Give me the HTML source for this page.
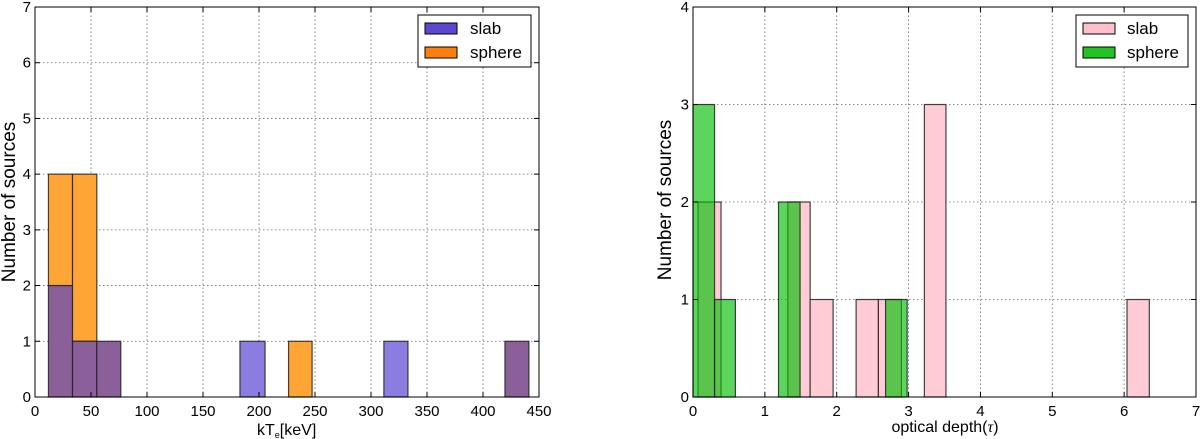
<!DOCTYPE html>
<html><head><meta charset="utf-8"><style>
html,body{margin:0;padding:0;background:#fff;width:1200px;height:439px;overflow:hidden}
svg{font-family:"Liberation Sans",sans-serif}
</style></head><body>
<svg id="s" width="1200" height="439" viewBox="0 0 1200 439"></svg>
<script>
// Left chart data
const leftEdgesL = [12, 33.5, 55.2, 183, 311.5, 419.6];
const leftEdgesR = [33.5, 55.2, 76.6, 205.4, 333, 441];
const leftSlab   = [2, 1, 1, 1, 1, 1];
const leftSphereL = [12, 33.5, 55.2, 226.4, 419.6];
const leftSphereR = [33.5, 55.2, 76.6, 247.4, 441];
const leftSphere  = [4, 4, 1, 1, 1];
const leftXTicks = [0,50,100,150,200,250,300,350,400,450];
const leftYTicks = [0,1,2,3,4,5,6,7];
// Right chart data
const rightPinkL = [0.07, 1.32, 1.63, 2.27, 2.58, 3.22, 6.04];
const rightPinkR = [0.39, 1.63, 1.95, 2.58, 2.9, 3.52, 6.35];
const rightPink  = [2, 2, 1, 1, 1, 3, 1];
const rightGreenL = [0.0, 0.30, 1.19, 2.68];
const rightGreenR = [0.30, 0.59, 1.49, 2.98];
const rightGreen  = [3, 1, 2, 1];
const rightXTicks = [0,1,2,3,4,5,6,7];
const rightYTicks = [0,1,2,3,4];

const NS="http://www.w3.org/2000/svg";
const svg=document.getElementById('s');
function mk(tag,attrs,parent){const e=document.createElementNS(NS,tag);for(const k in attrs)e.setAttribute(k,attrs[k]);(parent||svg).appendChild(e);return e;}

function axes(x0,x1,y0,y1,xmax,ymax,xt,yt,prefix){
  const sx=v=>x0+(v/xmax)*(x1-x0), sy=v=>y0-(v/ymax)*(y0-y1);
  const g=mk('g',{});
  
  
  xt.forEach(t=>{if(t>0&&t<xmax){mk('line',{x1:sx(t),x2:sx(t),y1:y0,y2:y1,stroke:'#666','stroke-width':0.8,'stroke-dasharray':'1.5,2.5'},g);}});
  yt.forEach(t=>{if(t>0&&t<ymax){mk('line',{x1:x0,x2:x1,y1:sy(t),y2:sy(t),stroke:'#666','stroke-width':0.8,'stroke-dasharray':'1.5,2.5'},g);}});
  return {sx,sy};
}
function frame(x0,x1,y0,y1,xmax,ymax,xt,yt,prefix,sx,sy){
  const f=mk('rect',{x:x0,y:y1,width:x1-x0,height:y0-y1,fill:'none',stroke:'#000','stroke-width':1});
  
  
  xt.forEach(t=>{
    mk('line',{x1:sx(t),x2:sx(t),y1:y0,y2:y0-5,stroke:'#000'});
    mk('line',{x1:sx(t),x2:sx(t),y1:y1,y2:y1+5,stroke:'#000'});
    const tx=mk('text',{x:sx(t),y:y0+19,'font-size':15,'text-anchor':'middle'});tx.textContent=t;
    
    
  });
  yt.forEach(t=>{
    mk('line',{x1:x0,x2:x0+5,y1:sy(t),y2:sy(t),stroke:'#000'});
    mk('line',{x1:x1,x2:x1-5,y1:sy(t),y2:sy(t),stroke:'#000'});
    const tx=mk('text',{x:x0-4,y:sy(t)+5,'font-size':15,'text-anchor':'end'});tx.textContent=t;
    
    
  });
}
function bar(sx,sy,l,r,h,fill,name,b){
  const e=mk('rect',{x:sx(l),y:sy(h),width:sx(r)-sx(l),height:sy(b||0)-sy(h),fill:fill,stroke:'#222','stroke-width':1.2,'stroke-opacity':0.85});
  
  
  return e;
}

// LEFT
{
 const x0=35,x1=539,y0=397,y1=7;
 const {sx,sy}=axes(x0,x1,y0,y1,450,7,leftXTicks,leftYTicks,'left');
 const PUR='#8a5f9a',ORA='#ffa535',BLU='#8a7ddf';
 const bins={};
 leftEdgesL.forEach((l,i)=>{bins[l]=bins[l]||{l:l,r:leftEdgesR[i],a:0,b:0};bins[l].a=leftSlab[i];});
 leftSphereL.forEach((l,i)=>{bins[l]=bins[l]||{l:l,r:leftSphereR[i],a:0,b:0};bins[l].b=leftSphere[i];});
 Object.values(bins).forEach(o=>{
   const m=Math.min(o.a,o.b);
   if(o.a>m) bar(sx,sy,o.l,o.r,o.a,BLU,'slab-bar',m);
   if(o.b>m) bar(sx,sy,o.l,o.r,o.b,ORA,'sphere-bar',m);
   if(m>0) bar(sx,sy,o.l,o.r,m,PUR,'overlap-bar',0);
 });
 frame(x0,x1,y0,y1,450,7,leftXTicks,leftYTicks,'left',sx,sy);
 const xl=mk('text',{x:257,y:435,'font-size':16});
 xl.innerHTML='kT<tspan font-size="9" dy="3">e</tspan><tspan dy="-3">[keV]</tspan>';
 
 const yl=mk('text',{x:0,y:0,'font-size':19,'text-anchor':'middle',transform:'translate(15,202) rotate(-90)'});
 yl.textContent='Number of sources';
 
 const lg=mk('g',{});
 mk('rect',{x:418,y:15,width:113,height:52,fill:'#fff',stroke:'#000'},lg);
 mk('rect',{x:425,y:23,width:32,height:11,fill:'#5b47d0',stroke:'#000'},lg);
 mk('rect',{x:425,y:47,width:32,height:11,fill:'#ff7f0e',stroke:'#000'},lg);
 const t1=mk('text',{x:470,y:34,'font-size':17},lg);t1.textContent='slab';
 const t2=mk('text',{x:470,y:58,'font-size':17},lg);t2.textContent='sphere';
}
// RIGHT
{
 const x0=693,x1=1196,y0=397,y1=7;
 const {sx,sy}=axes(x0,x1,y0,y1,7,4,rightXTicks,rightYTicks,'right');
 rightPinkL.forEach((l,i)=>bar(sx,sy,l,rightPinkR[i],rightPink[i],'#ffccd6','slab-bar'));
 rightGreenL.forEach((l,i)=>bar(sx,sy,l,rightGreenR[i],rightGreen[i],'rgba(0,190,0,0.64)','sphere-bar'));
 frame(x0,x1,y0,y1,7,4,rightXTicks,rightYTicks,'right',sx,sy);
 const xl=mk('text',{x:945,y:432,'font-size':16,'text-anchor':'middle'});
 xl.innerHTML='optical depth(<tspan font-style="italic" font-family="Liberation Serif">τ</tspan>)';
 
 const yl=mk('text',{x:0,y:0,'font-size':19,'text-anchor':'middle',transform:'translate(671,200) rotate(-90)'});
 yl.textContent='Number of sources';
 
 const lg=mk('g',{});
 mk('rect',{x:1076,y:15,width:112,height:52,fill:'#fff',stroke:'#000'},lg);
 mk('rect',{x:1083,y:23,width:32,height:11,fill:'#ffc0cb',stroke:'#000'},lg);
 mk('rect',{x:1083,y:47,width:32,height:11,fill:'#22c322',stroke:'#000'},lg);
 const t1=mk('text',{x:1127,y:34,'font-size':17},lg);t1.textContent='slab';
 const t2=mk('text',{x:1127,y:58,'font-size':17},lg);t2.textContent='sphere';
}
</script>
</body></html>
